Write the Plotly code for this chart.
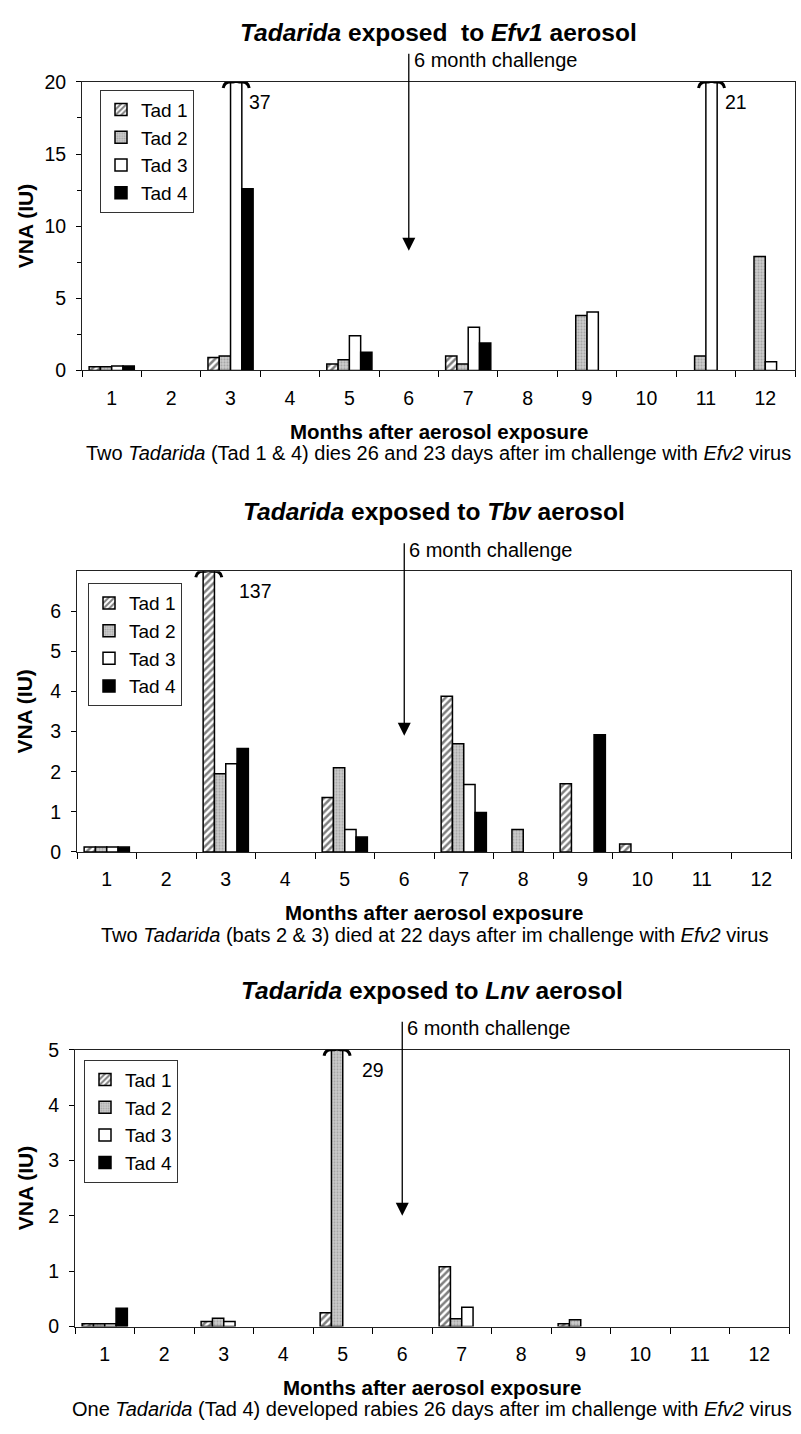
import plotly.graph_objects as go

# ---------------- data ----------------
months = [1, 2, 3, 4, 5, 6, 7, 8, 9, 10, 11, 12]
month_labels = [str(m) for m in months]
series_names = ["Tad 1", "Tad 2", "Tad 3", "Tad 4"]

efv1_tad1 = [0.25, None, 0.9, None, 0.45, None, 1.0, None, None, None, None, None]
efv1_tad2 = [0.25, None, 1.0, None, 0.73, None, 0.45, None, 3.8, None, 1.0, 7.9]
efv1_tad3 = [0.3, None, 37, None, 2.4, None, 3.0, None, 4.05, None, 21, 0.6]
efv1_tad4 = [0.3, None, 12.6, None, 1.25, None, 1.9, None, None, None, None, None]

tbv_tad1 = [0.12, None, 137, None, 1.36, None, 3.88, None, 1.7, 0.2, None, None]
tbv_tad2 = [0.12, None, 1.95, None, 2.1, None, 2.7, 0.56, None, None, None, None]
tbv_tad3 = [0.12, None, 2.2, None, 0.56, None, 1.68, None, None, None, None, None]
tbv_tad4 = [0.12, None, 2.58, None, 0.37, None, 0.98, None, 2.92, None, None, None]

lnv_tad1 = [0.05, None, 0.09, None, 0.25, None, 1.08, None, 0.05, None, None, None]
lnv_tad2 = [0.05, None, 0.15, None, 29, None, 0.14, None, 0.12, None, None, None]
lnv_tad3 = [0.05, None, 0.09, None, None, None, 0.35, None, None, None, None, None]
lnv_tad4 = [0.33, None, None, None, None, None, None, None, None, None, None, None]

titles = [
    "<b><i>Tadarida</i> exposed\u00a0 to <i>Efv1</i> aerosol</b>",
    "<b><i>Tadarida</i> exposed to <i>Tbv</i> aerosol</b>",
    "<b><i>Tadarida</i> exposed to <i>Lnv</i> aerosol</b>",
]
captions = [
    "Two <i>Tadarida</i> (Tad 1 & 4) dies 26 and 23 days after im challenge with <i>Efv2</i> virus",
    "Two <i>Tadarida</i> (bats 2 & 3) died at 22 days after im challenge with <i>Efv2</i> virus",
    "One <i>Tadarida</i> (Tad 4) developed rabies 26 days after im challenge with <i>Efv2</i> virus",
]
panel_series = [
    [efv1_tad1, efv1_tad2, efv1_tad3, efv1_tad4],
    [tbv_tad1, tbv_tad2, tbv_tad3, tbv_tad4],
    [lnv_tad1, lnv_tad2, lnv_tad3, lnv_tad4],
]
y_max = [20, 7, 5]
y_ticks = [[0, 5, 10, 15, 20], [0, 1, 2, 3, 4, 5, 6], [0, 1, 2, 3, 4, 5]]
challenge_month = 6
arrow_tip = [8.3, 2.9, 2.0]
x_title = "Months after aerosol exposure"
y_title = "VNA (IU)"
challenge_text = "6 month challenge"

# ---------------- layout geometry (pixels) ----------------
W, H = 801, 1434
geo = [
    dict(l=82, r=795, t=72, b=365, legx=100, legy=80, title_gap=50),
    dict(l=77, r=791, t=569, b=854, legx=88, legy=581, title_gap=61),
    dict(l=75, r=789, t=1055, b=1336, legx=84, legy=1065, title_gap=60),
]
FONT = "Liberation Sans, Arial, sans-serif"

def px_x(p):
    return p / W

def px_y(p):
    return 1 - p / H

styles = [
    dict(color="white", pattern=dict(shape="/", fgcolor="black", bgcolor="white", size=5, solidity=0.5)),
    dict(color="#c0c0c0", pattern=dict(shape=".", fgcolor="#7a7a7a", bgcolor="#cccccc", size=3, solidity=0.35)),
    dict(color="white"),
    dict(color="black"),
]

BARGAP = 0.24
bar_w = (1 - BARGAP) / 4

fig = go.Figure()
annotations = []
shapes = []
layout_axes = {}

for p in range(3):
    g = geo[p]
    suffix = "" if p == 0 else str(p + 1)
    xa, ya = "x" + suffix, "y" + suffix
    leg = "legend" if p == 0 else "legend" + str(p + 1)
    for j, name in enumerate(series_names):
        st = styles[j]
        marker = dict(color=st["color"], line=dict(color="black", width=1.5))
        if "pattern" in st:
            marker["pattern"] = st["pattern"]
        fig.add_trace(go.Bar(
            x=months, y=panel_series[p][j], name=name, marker=marker,
            xaxis=xa, yaxis=ya, legend=leg, legendgroup=f"p{p}_{j}",
            offsetgroup=str(j), showlegend=True,
        ))
        # broken-bar markers and value labels for off-scale bars
        for k, v in enumerate(panel_series[p][j]):
            if v is not None and v > y_max[p]:
                xc = months[k] + (j - 1.5) * bar_w
                shapes.append(dict(
                    type="path", xref=xa, yref=ya, xsizemode="pixel", ysizemode="pixel",
                    xanchor=xc, yanchor=y_max[p],
                    path="M-13,-6 Q-12,0 -6,0 L-3,0 Q0,0 0,3 Q0,0 3,0 L6,0 Q12,0 13,-6",
                    line=dict(color="black", width=3),
                ))
                annotations.append(dict(
                    x=months[k] + 0.5, y=y_max[p], xref=xa, yref=ya, yshift=-20,
                    text=f"{v:g}", showarrow=False, xanchor="center", yanchor="middle",
                    font=dict(size=19.5, color="black", family=FONT),
                ))

    layout_axes["xaxis" + suffix] = dict(
        domain=[px_x(g["l"]), px_x(g["r"])], anchor=ya, range=[0.5, 12.5],
        tickmode="array", tickvals=months, ticktext=month_labels, ticks="",
        showline=True, mirror=True, linecolor="#222", linewidth=1,
        showgrid=False, zeroline=False, ticklabelstandoff=10,
        tickfont=dict(size=19.5, color="black", family=FONT),
        minor=dict(tickmode="array", tickvals=[m + 0.5 for m in [0] + months],
                   ticks="outside", ticklen=6, tickcolor="black", showgrid=False),
        fixedrange=True,
    )
    yax = dict(
        domain=[px_y(g["b"]), px_y(g["t"])], anchor=xa, range=[0, y_max[p]],
        tickmode="array", tickvals=y_ticks[p], ticks="outside", ticklen=5, tickcolor="black",
        showline=True, mirror=True, linecolor="#222", linewidth=1,
        showgrid=False, zeroline=False, ticklabelstandoff=6,
        tickfont=dict(size=19.5, color="black", family=FONT), fixedrange=True,
    )
    if p == 0:
        yax["minor"] = dict(tickmode="array", tickvals=[2.5, 7.5, 12.5, 17.5], ticks="outside",
                            ticklen=4, tickcolor="black", showgrid=False)
    layout_axes["yaxis" + suffix] = yax

    layout_axes[leg] = dict(
        x=px_x(g["legx"]), y=px_y(g["legy"]), xanchor="left", yanchor="top",
        xref="paper", yref="paper",
        bgcolor="white", bordercolor="#333", borderwidth=1,
        font=dict(size=19, color="black", family=FONT),
        tracegroupgap=4, itemwidth=30, traceorder="normal",
    )

    cx = px_x((g["l"] + g["r"]) / 2)
    # title
    annotations.append(dict(x=cx, y=px_y(g["t"] - g["title_gap"]), xref="paper", yref="paper",
                            text=titles[p], showarrow=False, xanchor="center", yanchor="middle",
                            font=dict(size=24.5, color="black", family=FONT)))
    # challenge arrow
    top_px = g["t"] - 30
    arrow_top_val = y_max[p] * (g["b"] - top_px) / (g["b"] - g["t"])
    annotations.append(dict(x=challenge_month, y=arrow_tip[p], xref=xa, yref=ya,
                            ax=challenge_month, ay=arrow_top_val, axref=xa, ayref=ya,
                            text="", showarrow=True, arrowhead=2, arrowsize=2.0,
                            arrowwidth=1.3, arrowcolor="black"))
    annotations.append(dict(x=challenge_month, y=px_y(g["t"] - 22), xref=xa, yref="paper",
                            text=challenge_text, showarrow=False, xanchor="left", yanchor="middle",
                            xshift=3, font=dict(size=20, color="black", family=FONT)))
    # axis titles and caption
    annotations.append(dict(x=cx, y=px_y(g["b"] + 62), xref="paper", yref="paper",
                            text="<b>" + x_title + "</b>", showarrow=False,
                            xanchor="center", yanchor="middle",
                            font=dict(size=20.5, color="black", family=FONT)))
    annotations.append(dict(x=cx, y=px_y(g["b"] + 84), xref="paper", yref="paper",
                            text=captions[p], showarrow=False,
                            xanchor="center", yanchor="middle",
                            font=dict(size=20, color="black", family=FONT)))
    annotations.append(dict(x=px_x(25), y=px_y((g["t"] + g["b"]) / 2), xref="paper", yref="paper",
                            text="<b>" + y_title + "</b>", showarrow=False, textangle=-90,
                            xanchor="center", yanchor="middle",
                            font=dict(size=21, color="black", family=FONT)))

fig.update_layout(
    width=W, height=H, margin=dict(l=0, r=0, t=0, b=0),
    paper_bgcolor="white", plot_bgcolor="white",
    barmode="group", bargap=BARGAP, bargroupgap=0,
    font=dict(family=FONT, color="black"),
    annotations=annotations, shapes=shapes,
    **layout_axes,
)

fig.write_html("out.html", config={"displayModeBar": False})
